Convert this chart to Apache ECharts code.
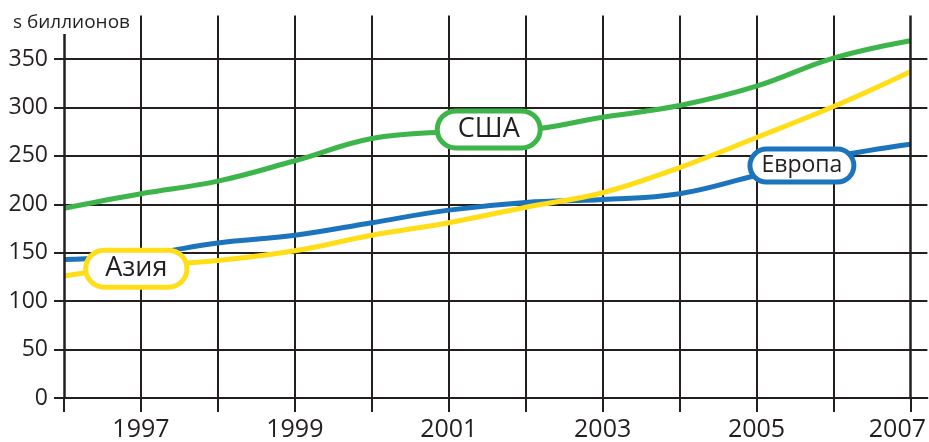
<!DOCTYPE html>
<html><head><meta charset="utf-8">
<script src="https://cdn.jsdelivr.net/npm/echarts@6/dist/echarts.min.js"></script>
<style>html,body{margin:0;padding:0;background:#fff}#c{width:929px;height:442px}</style>
</head><body><div id="c"></div>
<script>
const years = [1996,1997,1998,1999,2000,2001,2002,2003,2004,2005,2006,2007];
const usa    = [196,211,224,245,268,275,277,290,302,322,351,369];
const europe = [143,148,160,168,181,194,202,205,211,230,249,262];
const asia   = [126,136,142,152,168,181,197,212,238,269,301,337];
const xLabels = [1997,1999,2001,2003,2005,2007];
const yTicks = [0,50,100,150,200,250,300,350];
const unitLabel = 's биллионов';
const names = ['США','Европа','Азия'];

const FONT = 'Open Sans';
const INK = '#231f20';
const GREEN = '#3db54a', BLUE = '#1c75bc', YELLOW = '#ffde17';

function pairs(vals){ return years.map((y,i)=>[y, vals[i]]); }
function tag(name, coord, color, size, padH){
  return {
    symbol:'circle', symbolSize:1, itemStyle:{color:'rgba(0,0,0,0)'},
    data:[{coord:coord, value:name}],
    label:{show:true, position:'inside', formatter:name, fontFamily:FONT, fontSize:size,
      color:INK, backgroundColor:'#fff', borderColor:color, borderWidth:5, borderRadius:16,
      padding:[3,padH,2,padH]},
    z:10
  };
}
const chart = echarts.init(document.getElementById('c'), null, {renderer:'canvas'});
chart.setOption({
  animation:false,
  backgroundColor:'#fff',
  title:{text:unitLabel, left:8, top:8, textStyle:{fontFamily:FONT, fontSize:19, fontWeight:'normal', color:INK}},
  grid:{left:64, right:0, top:15.5, bottom:42, containLabel:false},
  xAxis:{type:'value', min:1996, max:2007.2205, interval:1,
    axisLine:{show:true, onZero:false, lineStyle:{color:INK, width:2}},
    axisTick:{show:true, length:14, customValues:years, lineStyle:{color:INK, width:2}},
    axisLabel:{customValues:xLabels, margin:19, fontFamily:FONT, fontSize:25, color:INK,
      formatter:v => v===2007 ? '{l|2007}' : String(v),
      rich:{l:{fontFamily:FONT, fontSize:25, color:INK, padding:[0,26,0,0]}}},
    splitLine:{show:true, showMinLine:false, showMaxLine:false, lineStyle:{color:INK, width:2}}
  },
  yAxis:{type:'value', min:0, max:395, interval:50,
    axisLine:{show:false},
    axisTick:{show:true, length:10, customValues:yTicks, lineStyle:{color:INK, width:2}},
    axisLabel:{customValues:yTicks, margin:16, fontFamily:FONT, fontSize:23, color:INK},
    splitLine:{show:true, lineStyle:{color:INK, width:2}}
  },
  series:[
    {name:names[1], type:'line', data:pairs(europe), smooth:0.4, symbol:'none',
      lineStyle:{color:BLUE, width:5}, z:3,
      markLine:{silent:true, symbol:'none', label:{show:false},
        data:[[{coord:[1996,0]},{coord:[1996,376]}],[{coord:[2007,0]},{coord:[2007,395]}]],
        lineStyle:{color:INK, width:2.5, type:'solid'}},
      markPoint:tag(names[1],[2005.59,240],BLUE,23,9)},
    {name:names[2], type:'line', data:pairs(asia), smooth:0.4, symbol:'none',
      lineStyle:{color:YELLOW, width:5}, z:3,
      markPoint:tag(names[2],[1996.94,133.6],YELLOW,27,17)},
    {name:names[0], type:'line', data:pairs(usa), smooth:0.4, symbol:'none',
      lineStyle:{color:GREEN, width:5}, z:3,
      markPoint:tag(names[0],[2001.52,277.4],GREEN,27,18)}
  ]
});
</script></body></html>
